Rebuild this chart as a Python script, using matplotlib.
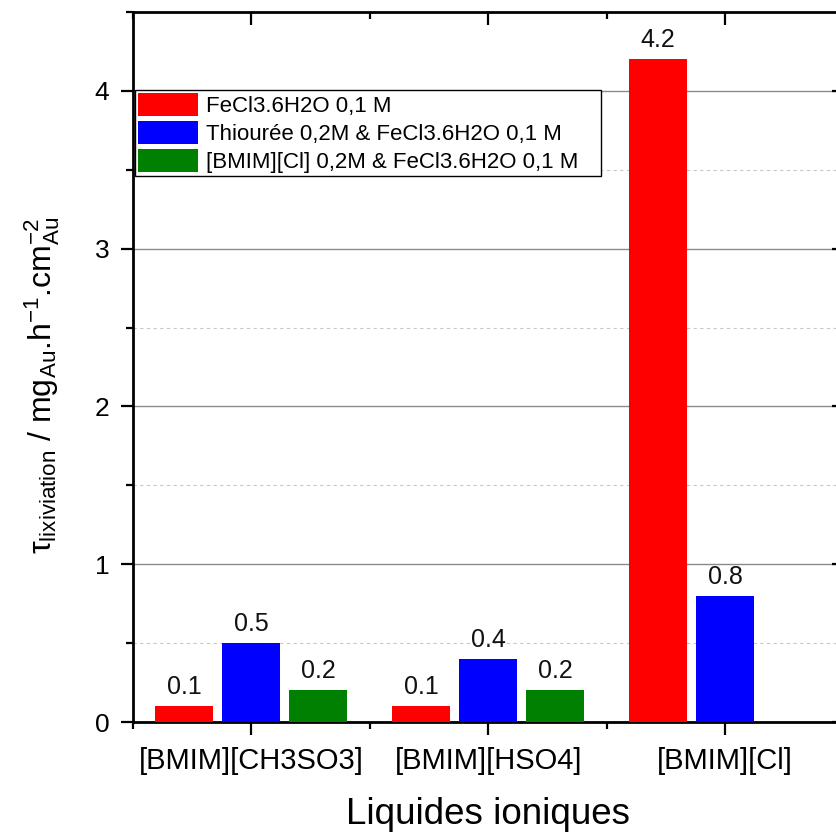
import matplotlib
matplotlib.use("Agg")
import matplotlib.pyplot as plt
import numpy as np
from matplotlib.patches import Rectangle
from matplotlib.legend_handler import HandlerPatch
from matplotlib.ticker import FixedLocator, MultipleLocator

plt.rcParams.update({
    "font.family": ["Liberation Sans", "DejaVu Sans"],
    "mathtext.fontset": "custom",
    "mathtext.rm": "Liberation Sans",
    "mathtext.it": "Liberation Sans:italic",
    "mathtext.bf": "Liberation Sans:bold",
})

# data
liquides = ["[BMIM][CH3SO3]", "[BMIM][HSO4]", "[BMIM][Cl]"]
series = ["FeCl3.6H2O 0,1 M",
          "Thiourée 0,2M & FeCl3.6H2O 0,1 M",
          "[BMIM][Cl] 0,2M & FeCl3.6H2O 0,1 M"]
fecl3 = [0.1, 0.1, 4.2]
thiouree = [0.5, 0.4, 0.8]
bmim_cl = [0.2, 0.2, np.nan]
colors = ["#FF0000", "#0000FF", "#008000"]

fig = plt.figure(figsize=(8.37, 8.32), dpi=100)
ax = fig.add_axes([133/837, 110/832, 710.5/837, 710/832])

x = np.arange(len(liquides))
w = 0.245
step = 0.283
for i, (vals, c, lab) in enumerate(zip([fecl3, thiouree, bmim_cl], colors, series)):
    bars = ax.bar(x + (i - 1) * step, vals, width=w, color=c, label=lab, zorder=3)
    labels = ["" if np.isnan(v) else f"{v:.1f}" for v in vals]
    ax.bar_label(bars, labels=labels, padding=5, fontsize=18, color="#111111")

ax.set_xlim(-0.5, 2.5)
ax.set_ylim(0, 4.5)
ax.set_xticks(x)
ax.set_xticklabels(liquides)
ax.xaxis.set_minor_locator(FixedLocator([-0.5, 0.5, 1.5, 2.5]))
ax.yaxis.set_major_locator(MultipleLocator(1))
ax.yaxis.set_minor_locator(MultipleLocator(0.5))

ax.grid(axis="y", which="major", color="#8a8a8a", lw=1.0, zorder=0)
ax.grid(axis="y", which="minor", color="#c8c8c8", lw=0.8, ls=(0, (3, 3)), zorder=0)

for s in ax.spines.values():
    s.set_linewidth(2.0)
ax.tick_params(axis="both", which="major", length=9, width=1.6)
ax.tick_params(axis="both", which="minor", length=5, width=1.6)
ax.tick_params(axis="x", which="both", labelsize=21, pad=9)
ax.tick_params(axis="y", which="both", labelsize=19, pad=8)
ax.tick_params(axis="both", which="both", top=True, right=True)
# top/right ticks point inward, bottom/left outward
for t in ax.xaxis.get_major_ticks() + ax.xaxis.get_minor_ticks():
    t.tick2line.set_marker(3)
for t in ax.yaxis.get_major_ticks() + ax.yaxis.get_minor_ticks():
    t.tick2line.set_marker(0)

ax.set_xlabel("Liquides ioniques", fontsize=26.5, labelpad=16)
ax.set_ylabel("τ$_{\\mathregular{lixiviation}}$ / mg$_{\\mathregular{Au}}$.h$^{\\mathregular{-1}}$"
              ".cm$^{\\mathregular{-2}}_{\\mathregular{Au}}$", fontsize=23)
ax.yaxis.set_label_coords(-0.10, 0.475)


def shifted_patch(legend, orig_handle, xdescent, ydescent, width, height, fontsize):
    off = 10
    return Rectangle((-xdescent + off, -ydescent), width - off, height)


leg = ax.legend(loc="upper left", bbox_to_anchor=(0.003, 0.835, 0.656, 0.055),
                mode="expand", fontsize=16, handlelength=2.7, handleheight=1.2,
                handletextpad=0.33, labelspacing=0.18, borderpad=0.15,
                borderaxespad=0, fancybox=False, framealpha=1, edgecolor="black",
                handler_map={Rectangle: HandlerPatch(patch_func=shifted_patch)})
leg.get_frame().set_linewidth(1.0)
leg.set_zorder(5)

fig.savefig("out.png", dpi=100, facecolor="white")
